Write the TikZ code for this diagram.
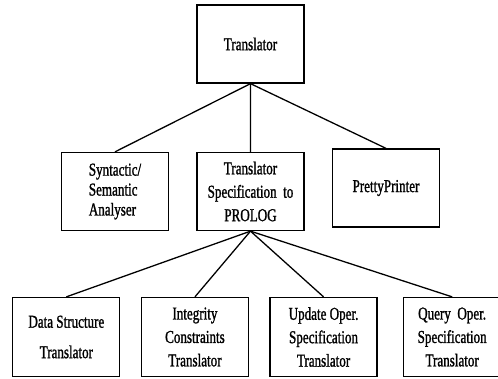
\documentclass[tikz,border=0pt]{standalone}
\usepackage{fontspec}
\newfontfamily\boxfont[FakeStretch=0.72,FakeBold=1.2]{Liberation Serif}
\usepackage{tikz}
\usetikzlibrary{positioning}

\tikzset{tbox/.style={rectangle,draw,line width=1.1pt,minimum width=3.21cm,minimum height=2.34cm,
  inner sep=2pt,align=center,font=\boxfont\fontsize{15.5}{20}\selectfont}}

\begin{document}
\begin{tikzpicture}[level 1/.style={level distance=4.425cm,sibling distance=4.065cm},
  level 2/.style={level distance=4.365cm,sibling distance=3.858cm,nodes={xshift=0.2625cm}},
  edge from parent/.style={draw,line width=1.1pt},
  edge from parent path={(\tikzparentnode.south) -- (\tikzchildnode.north)}]
\useasboundingbox (0,0) rectangle (14.94,-11.37);
\node [tbox] (trans) at (7.515,-1.32) {Translator}
  child {node [tbox,align=left] (syn) {Syntactic/\\[-3pt]Semantic\\[-3pt]Analyser}}
  child {node [tbox] (spec) {Translator\\Specification\ \ to\\PROLOG}
    child {node [tbox,minimum height=2.37cm] (ds) {Data Structure\\[6pt]Translator}}
    child {node [tbox,minimum height=2.37cm] (ic) {Integrity\\Constraints\\Translator}}
    child {node [tbox,minimum height=2.37cm] (uo) {Update Oper.\\Specification\\Translator}}
    child {node [tbox,minimum height=2.37cm,minimum width=2.91cm] (qo) {Query\ \ Oper.\\Specification\\Translator}}
  }
  child {node [tbox,yshift=0.105cm] (pp) {PrettyPrinter}}
;
\end{tikzpicture}
\end{document}
